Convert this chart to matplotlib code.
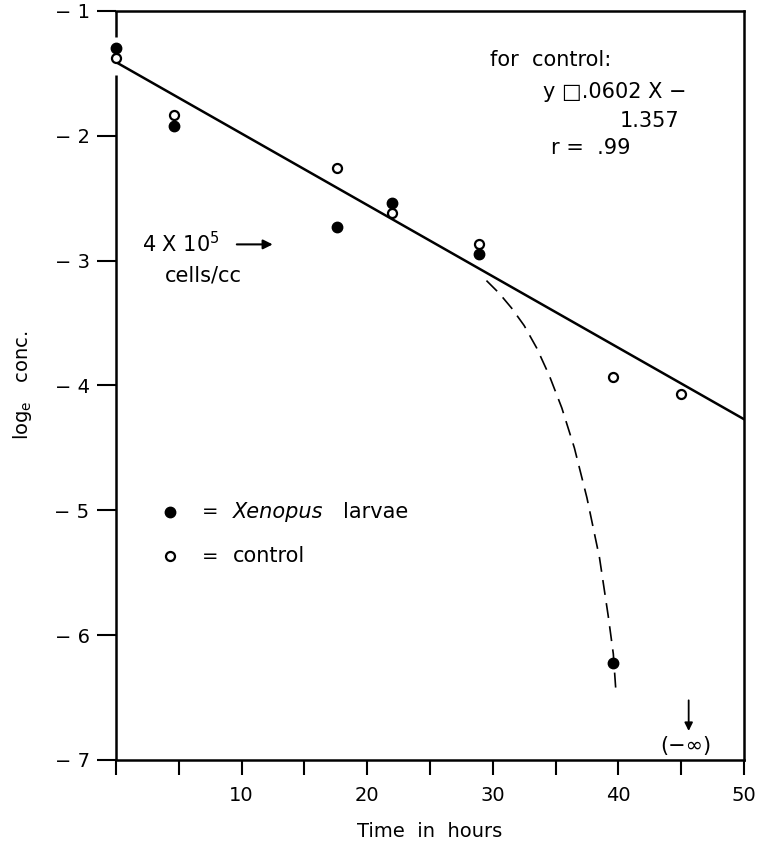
import matplotlib
matplotlib.use("Agg")
import matplotlib.pyplot as plt

plt.rcParams['font.family'] = ['DejaVu Sans']

# readings
xenopus_t = [0, 4.6, 17.6, 22.0, 28.9, 39.6]
xenopus_y = [-1.30, -1.92, -2.73, -2.54, -2.95, -6.22]
control_t = [0, 4.6, 17.6, 22.0, 28.9, 39.6, 45.0]
control_y = [-1.38, -1.83, -2.26, -2.62, -2.87, -3.93, -4.07]

fit_t = [0, 50]
fit_y = [-1.41, -4.27]

dash_t = [29.5, 30.5, 31.5, 32.5, 33.5, 34.5, 35.5, 36.5, 37.5, 38.5, 39.2, 39.6, 39.8]
dash_y = [-3.16, -3.26, -3.38, -3.52, -3.70, -3.92, -4.18, -4.50, -4.90, -5.38, -5.85, -6.15, -6.44]

x_ticks = [0, 5, 10, 15, 20, 25, 30, 35, 40, 45, 50]
x_labels = ['', '', '10', '', '20', '', '30', '', '40', '', '50']
y_ticks = [-1, -2, -3, -4, -5, -6, -7]
y_labels = ['\u2212 1', '\u2212 2', '\u2212 3', '\u2212 4', '\u2212 5', '\u2212 6', '\u2212 7']

fig = plt.figure(figsize=(7.63, 8.43), dpi=100)
ax = fig.add_axes([0.152, 0.0985, 0.823, 0.8885])
ax.set_xlim(0, 50)
ax.set_ylim(-7, -1)

for s in ax.spines.values():
    s.set_linewidth(1.8)
ax.spines['left'].set_visible(False)
# left axis is broken where the first points sit
ax.plot([0, 0], [-1, -1.21], color='k', lw=1.8, clip_on=False, solid_capstyle='butt')
ax.plot([0, 0], [-1.51, -7], color='k', lw=1.8, clip_on=False, solid_capstyle='butt')

ax.plot(fit_t, fit_y, color='k', lw=1.8)
ax.plot(dash_t, dash_y, color='k', lw=1.2, dashes=(9, 5))

ax.plot(xenopus_t, xenopus_y, 'o', color='k', ms=7.5, clip_on=False)
ax.plot(control_t, control_y, 'o', mfc='white', mec='k', mew=1.6, ms=6.5, clip_on=False)

ax.set_xticks(x_ticks)
ax.set_xticklabels(x_labels)
ax.set_yticks(y_ticks)
ax.set_yticklabels(y_labels)
ax.tick_params(axis='x', direction='out', length=11, width=1.5, labelsize=14, pad=8)
ax.tick_params(axis='y', direction='out', length=14, width=1.5, labelsize=14, pad=5)

ax.set_xlabel('Time  in  hours', fontsize=14, labelpad=12)
ax.set_ylabel('log$_\\mathregular{e}$   conc.', fontsize=14, labelpad=15)

# annotations
ax.text(29.8, -1.39, 'for  control:', fontsize=15, va='center')
ax.text(34.0, -1.65, 'y \u25a1.0602 X \u2212', fontsize=15, va='center')
ax.text(40.1, -1.88, '1.357', fontsize=15, va='center')
ax.text(34.6, -2.10, 'r =  .99', fontsize=15, va='center')

ax.text(2.1, -2.86, '4 X 10$^\\mathregular{5}$', fontsize=15, va='center')
ax.annotate('', xy=(12.7, -2.87), xytext=(9.4, -2.87),
            arrowprops=dict(arrowstyle='-|>', color='k', lw=1.5, mutation_scale=14))
ax.text(3.9, -3.12, 'cells/cc', fontsize=15, va='center')

ax.plot([4.3], [-5.01], 'o', color='k', ms=7.5)
ax.text(6.8, -5.01, '=', fontsize=14, va='center')
ax.text(9.3, -5.01, 'Xenopus', fontsize=15, va='center', style='italic')
ax.text(18.1, -5.01, 'larvae', fontsize=15, va='center')
ax.plot([4.3], [-5.37], 'o', mfc='white', mec='k', mew=1.6, ms=6.5)
ax.text(6.8, -5.37, '=', fontsize=14, va='center')
ax.text(9.3, -5.37, 'control', fontsize=15, va='center')

ax.annotate('', xy=(45.6, -6.79), xytext=(45.6, -6.50),
            arrowprops=dict(arrowstyle='-|>', color='k', lw=1.3, mutation_scale=12))
ax.text(45.4, -6.89, '(\u2212\u221e)', fontsize=15, ha='center', va='center')

fig.savefig('out.png', dpi=100)
